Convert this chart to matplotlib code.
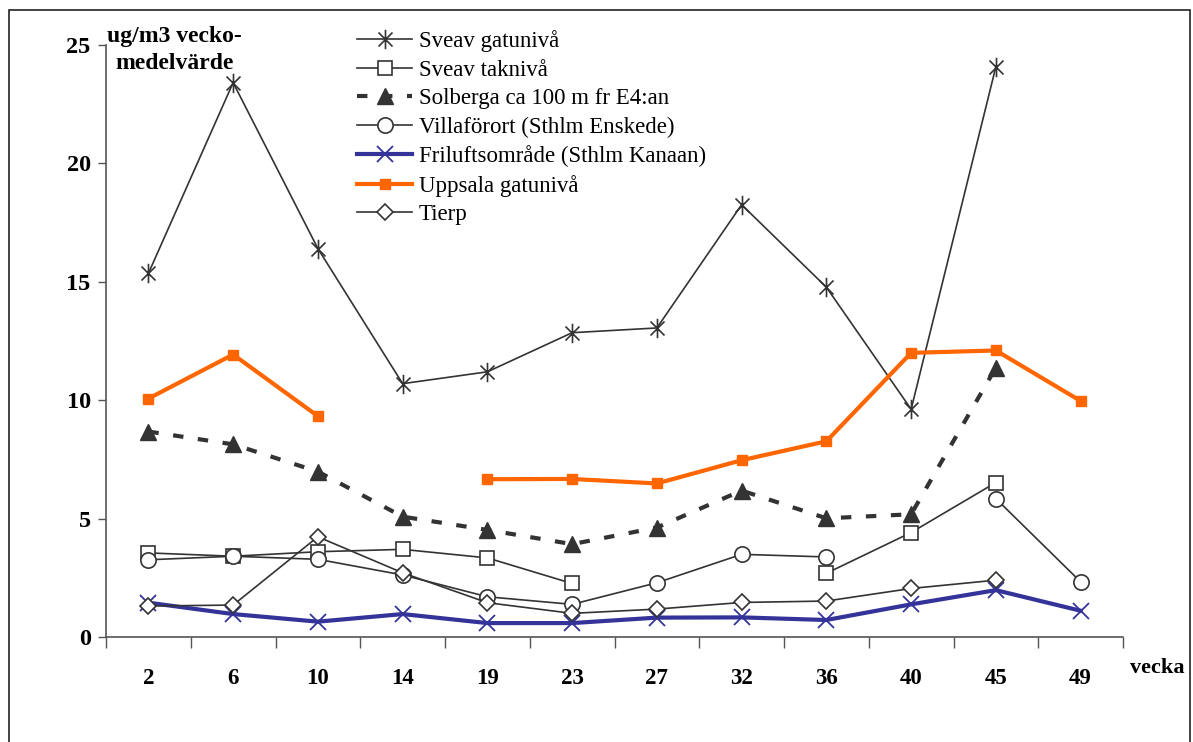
import numpy as np
import matplotlib
matplotlib.use("Agg")
import matplotlib.pyplot as plt
from matplotlib.path import Path
from matplotlib.patches import Rectangle

plt.rcParams['font.family'] = ['Liberation Serif', 'DejaVu Serif']

nan = np.nan
veckor = ['2', '6', '10', '14', '19', '23', '27', '32', '36', '40', '45', '49']

sveav_gata = [15.35, 23.4, 16.4, 10.7, 11.2, 12.85, 13.05, 18.25, 14.77, 9.62, 24.07, nan]
sveav_tak = [3.56, 3.42, 3.61, 3.71, 3.35, 2.27, nan, nan, 2.70, 4.42, 6.53, nan]
solberga = [8.68, 8.14, 6.99, 5.09, 4.53, 3.93, 4.63, 6.19, 5.02, 5.19, 11.38, nan]
villa = [3.27, 3.42, 3.29, 2.63, 1.71, 1.39, 2.30, 3.50, 3.39, nan, 5.85, 2.34]
frilufts = [1.46, 0.98, 0.66, 0.98, 0.60, 0.60, 0.83, 0.84, 0.73, 1.39, 1.99, 1.12]
uppsala = [10.07, 11.93, 9.33, nan, 6.67, 6.68, 6.49, 7.47, 8.27, 12.0, 12.10, 9.97]
tierp = [1.32, 1.36, 4.24, 2.72, 1.46, 1.01, 1.19, 1.47, 1.53, 2.06, 2.41, nan]

# six-armed asterisk: vertical bar plus an x
asterisk = Path([(0, -1), (0, 1), (-0.72, -0.72), (0.72, 0.72), (-0.72, 0.72), (0.72, -0.72)],
                [Path.MOVETO, Path.LINETO, Path.MOVETO, Path.LINETO, Path.MOVETO, Path.LINETO])

grey = '#333333'
x = np.arange(len(veckor))

fig = plt.figure(figsize=(11.93, 7.42), dpi=100)
fig.patches.append(Rectangle((9 / 1193, -0.1), 1181 / 1193, 1.1 - 10 / 742, transform=fig.transFigure,
                             fill=False, edgecolor='#222222', linewidth=1.2))
ax = fig.add_axes([106 / 1193, 104.7 / 742, 1017 / 1193, 592.6 / 742])

ax.plot(x, sveav_gata, color=grey, lw=1.2, marker=asterisk, ms=14, mew=1.2,
        mfc='none', mec=grey, label='Sveav gatunivå')
ax.plot(x, sveav_tak, color=grey, lw=1.2, marker='s', ms=10, mew=1.2,
        mfc='white', mec=grey, label='Sveav taknivå')
ax.plot(x, solberga, color=grey, lw=3, ls=(0, (2.5, 3.5)), marker='^', ms=11,
        mfc=grey, mec=grey, label='Solberga ca 100 m fr E4:an')
ax.plot(x, villa, color=grey, lw=1.2, marker='o', ms=11, mew=1.2,
        mfc='white', mec=grey, label='Villaförort (Sthlm Enskede)')
ax.plot(x, frilufts, color='#333399', lw=3, marker='x', ms=11, mew=1.3,
        mec='#333399', label='Friluftsområde (Sthlm Kanaan)')
ax.plot(x, uppsala, color='#FF6600', lw=3, marker='s', ms=7,
        mfc='#FF6600', mec='#FF6600', label='Uppsala gatunivå')
ax.plot(x, tierp, color=grey, lw=1.2, marker='D', ms=8, mew=1.2,
        mfc='white', mec=grey, label='Tierp')

ax.set_xlim(-0.5, len(veckor) - 0.5)
ax.set_ylim(0, 25)
ax.set_yticks([0, 5, 10, 15, 20, 25])
ax.set_yticklabels(['0', '5', '10', '15', '20', '25'], fontsize=17.5, fontweight='bold')
ax.tick_params(axis='y', direction='out', length=6, width=1, color='#555555', pad=5)

# labels sit at the category centres, tick marks on the boundaries
ax.set_xticks(np.arange(-0.5, len(veckor)), labels=[''] * (len(veckor) + 1))
ax.tick_params(axis='x', which='major', direction='out', length=8, width=1, color='#555555')
ax.set_xticks(x, minor=True)
ax.set_xticklabels(veckor, minor=True, fontsize=16.5, fontweight='bold')
ax.tick_params(axis='x', which='minor', length=0, pad=22)

for side in ['top', 'right']:
    ax.spines[side].set_visible(False)
for side in ['left', 'bottom']:
    ax.spines[side].set_color('#555555')
    ax.spines[side].set_linewidth(1.2)

fig.text(174 / 1193, 1 - 50 / 742, 'ug/m3 vecko-\nmedelvärde', ha='center', va='center',
         fontsize=17, fontweight='bold', linespacing=1.35)
fig.text(1130 / 1193, 1 - 668 / 742, 'vecka', ha='left', va='center',
         fontsize=16, fontweight='bold')

ax.legend(loc='upper left', bbox_to_anchor=(357 / 1193, 1 - 30 / 742),
          bbox_transform=fig.transFigure, frameon=False, fontsize=16.5,
          handlelength=2.4, handletextpad=0.3, labelspacing=0.33, borderpad=0,
          borderaxespad=0)

fig.savefig('out.png', dpi=100)
